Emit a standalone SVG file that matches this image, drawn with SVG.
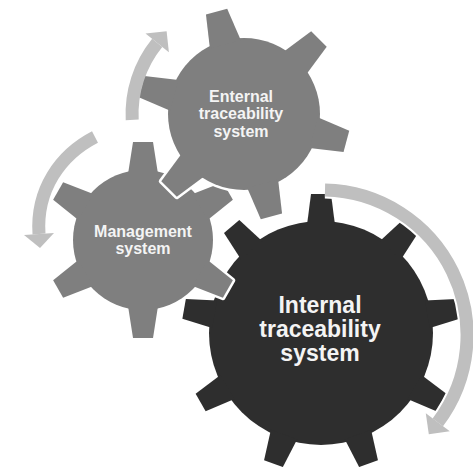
<svg xmlns="http://www.w3.org/2000/svg" width="473" height="467" viewBox="0 0 473 467">
<style>
.halo{fill:#ffffff;stroke:#ffffff;stroke-width:5;stroke-linejoin:round}
.dark{fill:#2e2e2e}
.mid{fill:#7f7f7f}
.lbl{font-family:"Liberation Sans",Arial,sans-serif;font-weight:bold;fill:#f4f4f4;text-anchor:middle}
.s16{font-size:16px}
.s23{font-size:23px}
.band{fill:none;stroke:#bfbfbf;stroke-width:13;stroke-linecap:butt}
.bandHalo{fill:none;stroke:#ffffff;stroke-width:17;stroke-linecap:butt}
.head{fill:#bfbfbf}
.headHalo{fill:#ffffff;stroke:#ffffff;stroke-width:4;stroke-linejoin:round}
</style>
<defs>
<path id="toothL" d="M-14,-108 L-10,-139 L10,-139 L14,-108Z"/>
<g id="gearL">
<circle r="112"/>
<use href="#toothL"/>
<use href="#toothL" transform="rotate(40)"/>
<use href="#toothL" transform="rotate(80)"/>
<use href="#toothL" transform="rotate(120)"/>
<use href="#toothL" transform="rotate(160)"/>
<use href="#toothL" transform="rotate(200)"/>
<use href="#toothL" transform="rotate(240)"/>
<use href="#toothL" transform="rotate(280)"/>
<use href="#toothL" transform="rotate(320)"/>
</g>
<path id="toothE" d="M-16,-72 L-11,-106 L11,-106 L16,-72Z"/>
<g id="gearE">
<circle r="76"/>
<use href="#toothE" transform="rotate(-15)"/>
<use href="#toothE" transform="rotate(45)"/>
<use href="#toothE" transform="rotate(105)"/>
<use href="#toothE" transform="rotate(165)"/>
<use href="#toothE" transform="rotate(225)"/>
<use href="#toothE" transform="rotate(285)"/>
</g>
<path id="toothM" d="M-15,-66 L-10,-98 L10,-98 L15,-66Z"/>
<g id="gearM">
<circle r="70"/>
<use href="#toothM"/>
<use href="#toothM" transform="rotate(60)"/>
<use href="#toothM" transform="rotate(120)"/>
<use href="#toothM" transform="rotate(180)"/>
<use href="#toothM" transform="rotate(240)"/>
<use href="#toothM" transform="rotate(300)"/>
</g>
</defs>
<rect width="473" height="467" fill="#ffffff"/>
<g id="node-internal">
<use href="#gearL" class="halo" transform="translate(321,333)"/>
<use href="#gearL" class="dark" transform="translate(321,333)"/>
<text class="lbl s23" x="320" y="313">Internal</text>
<text class="lbl s23" x="320" y="337">traceability</text>
<text class="lbl s23" x="320" y="361">system</text>
</g>
<g id="node-management">
<use href="#gearM" class="halo" transform="translate(143,240)"/>
<use href="#gearM" class="mid" transform="translate(143,240)"/>
<text class="lbl s16" x="143" y="237">Management</text>
<text class="lbl s16" x="143" y="254">system</text>
</g>
<g id="node-enternal">
<use href="#gearE" class="halo" transform="translate(244,114)"/>
<use href="#gearE" class="mid" transform="translate(244,114)"/>
<text class="lbl s16" x="241" y="101.5">Enternal</text>
<text class="lbl s16" x="241" y="119">traceability</text>
<text class="lbl s16" x="241" y="136.5">system</text>
</g>
<g id="connectors">
<g id="arrow-internal">
<path class="bandHalo" d="M325,190 A145,145 0 0 1 437.8,422.3"/>
<polygon class="headHalo" points="449.8,431.3 425.8,413.3 428.8,434.3"/>
<path class="band" d="M325,190 A145,145 0 0 1 437.8,422.3"/>
<polygon class="head" points="449.8,431.3 425.8,413.3 428.8,434.3"/>
</g>
<g id="arrow-enternal">
<path class="band" d="M132.2,119.9 A113,113 0 0 1 157.2,42.9"/>
<polygon class="head" points="145.5,33.5 168.9,52.3 166.6,31.2"/>
</g>
<g id="arrow-management">
<path class="band" d="M95,137 C60,155 36,190 39,234"/>
<polygon class="head" points="54,233 24,235 40,248"/>
</g>
</g>
</svg>
